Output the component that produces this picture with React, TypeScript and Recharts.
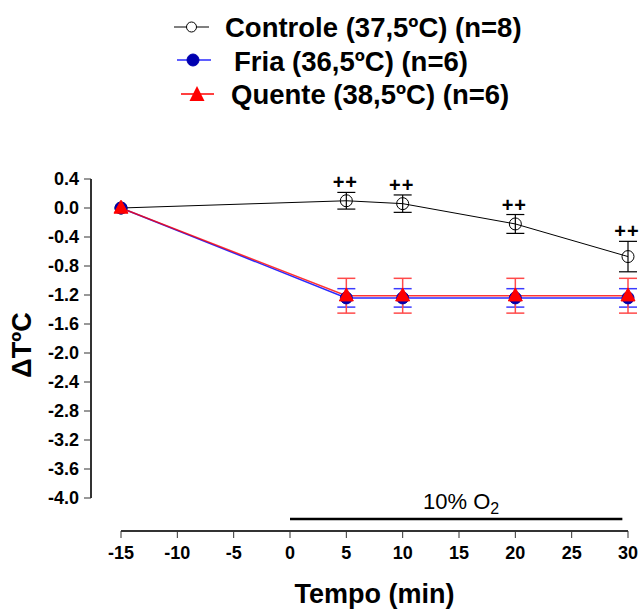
import {
  ErrorBar,
  LabelList,
  Legend,
  Line,
  LineChart,
  ReferenceLine,
  XAxis,
  YAxis,
} from "recharts";

// time points (min) and group means / SEM (ΔT ºC)
const times = [-15, 5, 10, 20, 30];
const controle = [0, 0.1, 0.06, -0.22, -0.67];
const controleErr = [0, 0.115, 0.12, 0.13, 0.21];
const fria = [0, -1.24, -1.24, -1.24, -1.24];
const friaErr = [0, 0.127, 0.127, 0.127, 0.127];
const quente = [0, -1.21, -1.21, -1.21, -1.21];
const quenteErr = [0, 0.24, 0.24, 0.24, 0.24];
const signif = ["", "++", "++", "++", "++"];

const xTicks = [-15, -10, -5, 0, 5, 10, 15, 20, 25, 30];
const yTicks = [0.4, 0.0, -0.4, -0.8, -1.2, -1.6, -2.0, -2.4, -2.8, -3.2, -3.6, -4.0];

const O2_START = 0;
const O2_END = 29.5;
const O2_LEVEL = -4.29;

const data = times.map((t, i) => ({
  t,
  controle: controle[i],
  controleErr: controleErr[i],
  fria: fria[i],
  friaErr: friaErr[i],
  quente: quente[i],
  quenteErr: quenteErr[i],
  sigTop: signif[i] ? controle[i] + controleErr[i] : null,
  sig: signif[i],
}));

const FONT = 'Arial, "Liberation Sans", sans-serif';
const AXIS = "#333";
const BLUE_LINE = "#2a2aff";
const BLUE_DOT = "#0000b0";
const RED = "#ff0000";
const LEGEND_H = 115;

const W = 641;
const H = 610;
const PLOT_TOP = 179;
const PLOT_RIGHT = 628;
const Y_AXIS_W = 91;
const X_AXIS_H = 79;
const GAP_X = 30; // axes are detached: empty strip between y axis and first tick
const GAP_Y = 33; // and between x axis and the lowest tick
const PLOT_W = PLOT_RIGHT - Y_AXIS_W - GAP_X;
const PLOT_H = H - X_AXIS_H - GAP_Y - PLOT_TOP;
const TICK_SIZE = 7;
const X_TICK_MARGIN = 8;
const Y_TICK_MARGIN = 5;
const ID = "main";

function Triangle(props: any) {
  const { cx, cy, index } = props;
  if (cx == null || cy == null) return <g key={`tri-${index}`} />;
  const h = 13;
  const w = 14;
  return (
    <polygon
      key={`tri-${index}`}
      points={`${cx},${cy - h * 0.6} ${cx - w / 2},${cy + h * 0.4} ${cx + w / 2},${cy + h * 0.4}`}
      fill={RED}
      stroke={RED}
    />
  );
}

function LegendBox() {
  return (
    <svg width={W} height={LEGEND_H} style={{ display: "block" }}>
      <g fontFamily={FONT} fontWeight="bold" fontSize={27.5} fill="#000">
        <line x1={174} x2={209} y1={27} y2={27} stroke="#000" />
        <circle cx={191.5} cy={27} r={5} fill="#fff" stroke="#000" />
        <text x={225} y={37}>Controle (37,5ºC) (n=8)</text>

        <line x1={177} x2={211} y1={60} y2={60} stroke={BLUE_LINE} strokeWidth={1.5} />
        <circle cx={193} cy={60} r={6} fill={BLUE_DOT} stroke={BLUE_DOT} />
        <text x={234} y={71}>Fria (36,5ºC) (n=6)</text>

        <line x1={181} x2={214} y1={94} y2={94} stroke={RED} strokeWidth={1.5} />
        <polygon points="197,86 189.5,101 204.5,101" fill={RED} />
        <text x={231} y={104}>Quente (38,5ºC) (n=6)</text>
      </g>
    </svg>
  );
}

// tick renderers also draw the (detached) axis line as a thin filled rect, from the first tick
function YTick(props: any) {
  const { x, y, payload } = props;
  const ax = x + TICK_SIZE + Y_TICK_MARGIN;
  const first = Math.abs(Number(payload.value) - yTicks[0]) < 1e-9;
  return (
    <g>
      {first && <rect x={ax - 1} y={y} width={2} height={PLOT_H} fill={AXIS} stroke="none" />}
      <rect x={ax - TICK_SIZE} y={y - 0.5} width={TICK_SIZE} height={1} fill={AXIS} stroke="none" />
      <text x={x} y={y} dy="0.355em" textAnchor="end" fontFamily={FONT} fontWeight="bold" fontSize={18} fill="#000" stroke="none">
        {Number(payload.value).toFixed(1)}
      </text>
    </g>
  );
}

function XTick(props: any) {
  const { x, y, payload } = props;
  const ay = y - TICK_SIZE - X_TICK_MARGIN;
  const first = Number(payload.value) === xTicks[0];
  return (
    <g>
      {first && <rect x={x} y={ay - 1} width={PLOT_W} height={2} fill={AXIS} stroke="none" />}
      <rect x={x - 0.5} y={ay} width={1} height={TICK_SIZE} fill={AXIS} stroke="none" />
      <text x={x} y={y} dy="0.71em" textAnchor="middle" fontFamily={FONT} fontWeight="bold" fontSize={18} fill="#000" stroke="none">
        {payload.value}
      </text>
    </g>
  );
}

function SigLabel(props: any) {
  const { x, y, value } = props;
  if (!value || x == null || y == null) return null;
  return (
    <text
      x={x - 1}
      y={y - 3}
      textAnchor="middle"
      fontFamily={FONT}
      fontWeight="bold"
      fontSize={20}
      letterSpacing={1}
      fill="#000"
    >
      ++
    </text>
  );
}

function O2Label(props: any) {
  const vb = props.viewBox || {};
  const cx = (vb.x ?? 0) + (vb.width ?? 0) / 2;
  const y = (vb.y ?? 0) - 10;
  return (
    <text x={cx + 5} y={y} textAnchor="middle" fontFamily={FONT} fontSize={22} fill="#000">
      10% O
      <tspan fontSize={16} dy={5}>2</tspan>
    </text>
  );
}

function YTitle() {
  return (
    <text
      x={22}
      y={345}
      transform="rotate(-90 22 345)"
      textAnchor="middle"
      dominantBaseline="central"
      fontFamily={FONT}
      fontWeight="bold"
      fontSize={27}
      fill="#000"
    >
      ΔTºC
    </text>
  );
}

export default function App() {
  return (
    <div style={{ position: "absolute", left: 0, top: 0, background: "#fff" }}>
      <LineChart
        width={W}
        height={H}
        data={data}
        margin={{ top: PLOT_TOP - LEGEND_H, right: W - PLOT_RIGHT, left: 0, bottom: 0 }}
      >
        <Legend
          layout="vertical"
          align="center"
          verticalAlign="top"
          wrapperStyle={{ top: 0, left: 0, width: W, height: LEGEND_H }}
          content={() => <LegendBox />}
        />
        <XAxis
          xAxisId={ID}
          dataKey="t"
          type="number"
          domain={[-15, 30]}
          ticks={xTicks}
          interval={0}
          axisLine={false}
          tickLine={false}
          tickSize={TICK_SIZE}
          tickMargin={X_TICK_MARGIN}
          height={X_AXIS_H}
          tick={(p: any) => <XTick {...p} />}
          label={{
            value: "Tempo (min)",
            position: "insideBottom",
            offset: 7,
            fontSize: 27,
            fontWeight: "bold",
            fill: "#000",
            fontFamily: FONT,
          }}
        />
        <YAxis
          yAxisId={ID}
          type="number"
          domain={[-4, 0.4]}
          ticks={yTicks}
          interval={0}
          width={Y_AXIS_W}
          axisLine={false}
          tickLine={false}
          tickSize={TICK_SIZE}
          tickMargin={Y_TICK_MARGIN}
          tick={(p: any) => <YTick {...p} />}
          label={{ content: () => <YTitle /> }}
        />
        {/* empty spacer axes between plot and the real axes, so the axes sit detached */}
        <XAxis xAxisId="gap" type="number" domain={[0, 1]} allowDataOverflow height={GAP_Y} tick={false} tickLine={false} axisLine={false} />
        <YAxis yAxisId="gap" type="number" domain={[0, 1]} allowDataOverflow width={GAP_X} tick={false} tickLine={false} axisLine={false} />

        {/* hypoxia bar */}
        <ReferenceLine
          xAxisId={ID}
          yAxisId={ID}
          segment={[{ x: O2_START, y: O2_LEVEL }, { x: O2_END, y: O2_LEVEL }]}
          stroke="#000"
          strokeWidth={2.5}
          ifOverflow="visible"
          label={{ content: (p: any) => <O2Label {...p} /> }}
        />

        <Line
          xAxisId={ID}
          yAxisId={ID}
          dataKey="controle"
          stroke="#000"
          strokeWidth={1}
          isAnimationActive={false}
          dot={{ r: 6, fill: "none", stroke: "#000", strokeWidth: 1 }}
          activeDot={false}
        >
          <ErrorBar dataKey="controleErr" width={9} stroke="#000" strokeWidth={1.2} direction="y" isAnimationActive={false} />
        </Line>
        <Line
          xAxisId={ID}
          yAxisId={ID}
          dataKey="fria"
          stroke={BLUE_LINE}
          strokeWidth={1.5}
          isAnimationActive={false}
          dot={{ r: 6, fill: BLUE_DOT, stroke: BLUE_DOT, strokeWidth: 1 }}
          activeDot={false}
        >
          <ErrorBar dataKey="friaErr" width={9} stroke="#3b3bff" strokeWidth={1.5} direction="y" isAnimationActive={false} />
        </Line>
        <Line
          xAxisId={ID}
          yAxisId={ID}
          dataKey="quente"
          stroke={RED}
          strokeWidth={1.5}
          strokeOpacity={0.8}
          isAnimationActive={false}
          dot={(p: any) => <Triangle {...p} />}
          activeDot={false}
        >
          <ErrorBar dataKey="quenteErr" width={9} stroke="#ff4a4a" strokeWidth={1.5} direction="y" isAnimationActive={false} />
        </Line>
        <Line
          xAxisId={ID}
          yAxisId={ID}
          dataKey="sigTop"
          stroke="none"
          dot={false}
          activeDot={false}
          legendType="none"
          isAnimationActive={false}
        >
          <LabelList dataKey="sig" content={(p: any) => <SigLabel {...p} />} />
        </Line>
      </LineChart>
    </div>
  );
}
